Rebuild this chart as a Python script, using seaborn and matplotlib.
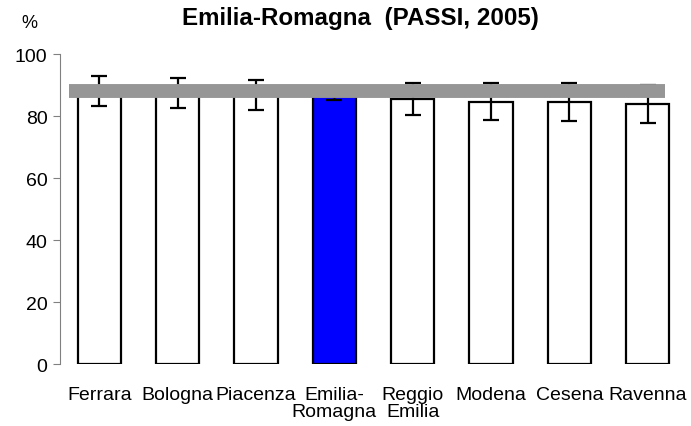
import numpy as np
import pandas as pd
import seaborn as sns
from matplotlib import pyplot as plt

sns.set_theme(style="white")
plt.rcParams["font.family"] = ["Liberation Sans", "DejaVu Sans"]
plt.rcParams["text.color"] = "black"
plt.rcParams["xtick.labelcolor"] = "black"
plt.rcParams["ytick.labelcolor"] = "black"

# Data
labels = ["Ferrara", "Bologna", "Piacenza", "Emilia-\nRomagna", "Reggio\nEmilia",
          "Modena", "Cesena", "Ravenna"]
values = [88.0, 87.3, 86.7, 87.3, 85.5, 84.7, 84.6, 83.9]
ci_low = [83.1, 82.5, 81.9, 85.3, 80.4, 78.8, 78.5, 77.7]
ci_high = [92.8, 92.2, 91.5, 89.3, 90.6, 90.6, 90.7, 90.1]
regional = 88.1

colors = ["white", "white", "white", "#0000ff", "white", "white", "white", "white"]

df = pd.DataFrame({"area": labels, "pct": values})

fig = plt.figure(figsize=(6.91, 4.27), dpi=100)
ax = fig.add_axes([0.087, 0.145, 0.907, 0.726])

sns.barplot(
    data=df, x="area", y="pct", hue="area", palette=colors, legend=False,
    width=0.55, edgecolor="black", linewidth=1.6, saturation=1, ax=ax
)

# Confidence intervals
x = np.arange(len(labels))
v = np.array(values)
yerr = np.vstack([v - np.array(ci_low), np.array(ci_high) - v])
ax.errorbar(x, v, yerr=yerr, fmt="none", ecolor="black", elinewidth=1.6,
            capsize=5.5, capthick=1.6, zorder=3)

# Regional reference band
ax.hlines(regional, -0.39, 7.22, color="#969696", linewidth=10, zorder=4)

ax.set_ylim(0, 100)
ax.set_xlim(-0.5, 7.5)
ax.set_yticks([0, 20, 40, 60, 80, 100])
ax.tick_params(axis="y", labelsize=14, length=5, width=0.8, color="#808080",
               direction="out", left=True, pad=4)
ax.tick_params(axis="x", labelsize=14, length=0, pad=15.5)
for t in ax.get_xticklabels():
    t.set_linespacing(1.05)
ax.set_xlabel("")
ax.set_ylabel("")
for s in ["top", "right", "bottom"]:
    ax.spines[s].set_visible(False)
ax.spines["left"].set_color("#808080")
ax.spines["left"].set_linewidth(0.8)

fig.text(0.043, 0.944, "%", fontsize=13, ha="center", va="center")
fig.text(0.521, 0.957, "Emilia-Romagna  (PASSI, 2005)", fontsize=17.4,
         fontweight="bold", ha="center", va="center")

fig.savefig("out.png", dpi=100)
